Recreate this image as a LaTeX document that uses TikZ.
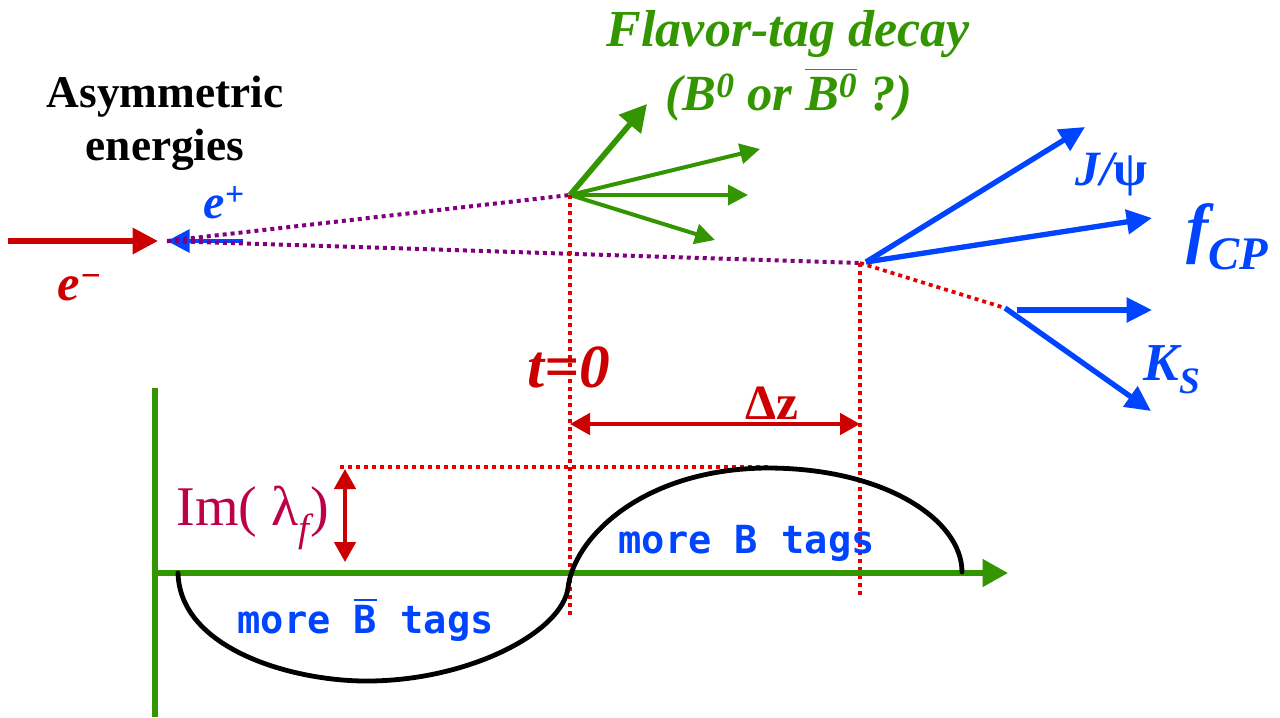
\documentclass[tikz,border=0pt]{standalone}
\usepackage{amsmath}
\usepackage{fontspec}
\setmainfont{Liberation Serif}
\newfontfamily\tagfont{DejaVu Sans Mono}
\usetikzlibrary{arrows.meta}
\definecolor{beamred}{RGB}{204,0,0}
\definecolor{dotred}{RGB}{228,0,0}
\definecolor{vtxpurple}{RGB}{128,0,128}
\definecolor{taggreen}{RGB}{51,150,0}
\definecolor{cpblue}{RGB}{0,68,255}
\definecolor{imred}{RGB}{190,0,70}

\tikzset{every picture/.style={line width=0.75pt}}
\tikzset{
  vtxdots/.style={color=vtxpurple,line width=3pt,dash pattern={on 3pt off 3pt}},
  reddots/.style={color=dotred,line width=2.8pt,dash pattern={on 3pt off 3pt}},
  beam/.style={line width=4pt,-{Triangle[length=19pt,width=19pt]}},
  tagarrow/.style={color=taggreen,line width=3pt,-{Triangle[length=15pt,width=15pt]}},
  cparrow/.style={color=cpblue,line width=4pt,-{Triangle[length=19pt,width=18pt]}},
  measure/.style={color=beamred,line width=2.8pt,{Triangle[length=15pt,width=16pt]}-{Triangle[length=15pt,width=16pt]}},
  axis/.style={color=taggreen,line width=4pt},
  lbl/.style={inner sep=0pt,anchor=base west},
}

\begin{document}
\begin{tikzpicture}[x=0.75pt,y=0.75pt,yscale=-1,xscale=1]
\useasboundingbox (0,0) rectangle (1280,717);
%Vertices
\coordinate (ip) at (167,241);
\coordinate (tagv) at (570,195);
\coordinate (cpv) at (860,263);
\coordinate (ksv) at (1005,308);
%Arrow ends
\coordinate (emstart) at (8,241);
\coordinate (emtip) at (158,241);
\coordinate (epstart) at (243,241);
\coordinate (g1) at (647,104);
\coordinate (g2) at (760,149);
\coordinate (g3) at (748,195);
\coordinate (g4) at (715,240);
\coordinate (cpstart) at (866,262);
\coordinate (jpsi) at (1085,127);
\coordinate (fcp) at (1152,218);
\coordinate (k1a) at (1017,310);
\coordinate (k1b) at (1152,310);
\coordinate (k2) at (1151,411);
%Beams
\draw [beam,color=beamred] (emstart) -- (emtip);
\draw [color=cpblue,line width=3.4pt,-{Triangle[length=17pt,width=17pt]}] (epstart) -- (ip);
%B flight lines
\draw [vtxdots] (ip) -- (tagv);
\draw [vtxdots] (ip) -- (cpv);
\draw [reddots] (cpv) -- (ksv);
%Flavor-tag tracks
\draw [tagarrow,line width=4.2pt,-{Triangle[length=20pt,width=21pt]}] (tagv) -- (g1);
\draw [tagarrow] (tagv) -- (g2);
\draw [tagarrow] (tagv) -- (g3);
\draw [tagarrow] (tagv) -- (g4);
%CP tracks
\draw [cparrow] (cpstart) -- (jpsi);
\draw [cparrow] (cpstart) -- (fcp);
\draw [cparrow] (k1a) -- (k1b);
\draw [cparrow] (ksv) -- (k2);
%Dotted guides
\coordinate (tagfoot) at (570,615);
\coordinate (cpfoot) at (860,597);
\draw [reddots] (tagv) -- (tagfoot);
\draw [reddots] (cpv) -- (cpfoot);
\coordinate (ampl) at (340,467);
\coordinate (peak) at (768,467);
\draw [reddots] (ampl) -- (peak);
%Delta z
\coordinate (dzl) at (570,424);
\coordinate (dzr) at (860,424);
\draw [measure] (dzl) -- (dzr);
%Im arrow
\coordinate (imtop) at (345,469);
\coordinate (imbot) at (345,562);
\draw [measure] (imtop) -- (imbot);
%Axes
\coordinate (origin) at (155,573);
\coordinate (ytop) at (155,388);
\coordinate (ybot) at (155,717);
\coordinate (xend) at (1008,573);
\draw [axis] (ytop) -- (ybot);
\draw [axis,-{Triangle[length=19pt,width=20pt]}] (origin) -- (xend);
%Asymmetry curve
\draw [line width=3.6pt,line cap=round] (178,573) .. controls (180,650) and (295,682) .. (370,681) .. controls (470,680) and (562,632) .. (568,588) .. controls (573,540) and (640,469) .. (767,468) .. controls (885,468) and (962,520) .. (962,572);
% Text Node
\node [lbl,anchor=base,font=\fontsize{34}{34}\selectfont\bfseries] (asym) at (165,107) {Asymmetric};
\node [lbl,anchor=base,font=\fontsize{34}{34}\selectfont\bfseries] (energ) at (165,160) {energies};
% Text Node
\node [lbl,anchor=base,text=taggreen,font=\fontsize{39}{39}\selectfont\bfseries\itshape] (flav) at (788,47) {Flavor-tag decay};
\node [lbl,anchor=base,text=taggreen,font=\fontsize{38}{38}\selectfont\bfseries\itshape] (flavq) at (789,110) {(B$^{\text{0}}$ or $\overline{\text{B$^{\text{0}}$}}$ ?)};
% Text Node
\node [lbl,text=cpblue,font=\fontsize{36}{36}\selectfont\bfseries\itshape] (eplus) at (203,218) {e$^{\text{+}}$};
\node [lbl,text=beamred,font=\fontsize{38}{38}\selectfont\bfseries\itshape] (eminus) at (57,300) {e$^{\text{−}}$};
% Text Node
\node [lbl,text=beamred,font=\fontsize{46}{46}\selectfont\bfseries\itshape] (tzero) at (527,387) {t=0};
\node [lbl,text=beamred,font=\fontsize{37}{37}\selectfont\bfseries] (dz) at (745,419) {Δz};
% Text Node
\node [lbl,text=cpblue,font=\fontsize{37}{37}\selectfont\bfseries\itshape] (jpsilbl) at (1075,185) {J/{\upshape ψ}};
\node [lbl,text=cpblue,font=\fontsize{50}{50}\selectfont\bfseries\itshape] (fcplbl) at (1186,250) {f$_{\text{CP}}$};
\node [lbl,text=cpblue,font=\fontsize{40}{40}\selectfont\bfseries\itshape] (kslbl) at (1143,380) {K$_{\text{S}}$};
% Text Node
\node [lbl,text=imred,font=\fontsize{42}{42}\selectfont] (imlbl) at (176,525) {Im( λ$_{\text{\itshape f}}$)};
% Text Node
\node [lbl,text=cpblue,font=\fontsize{29}{29}\selectfont\tagfont\bfseries] (moreb) at (618,553) {more B tags};
\node [lbl,text=cpblue,font=\fontsize{29}{29}\selectfont\tagfont\bfseries] (morebbar) at (237,633) {more $\overline{\text{B}}$ tags};
\end{tikzpicture}
\end{document}
